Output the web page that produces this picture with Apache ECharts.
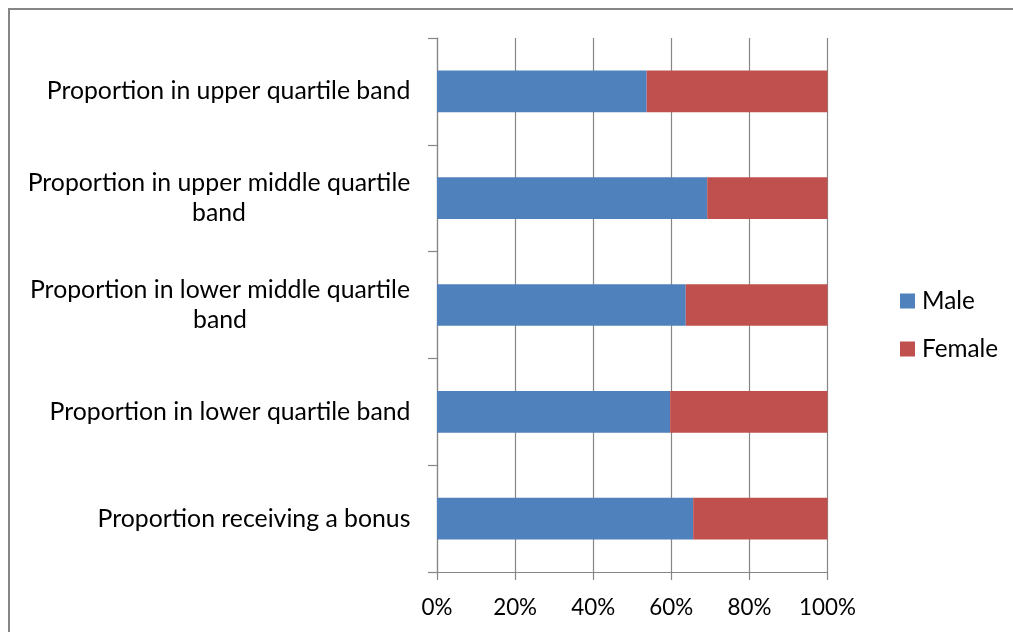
<!DOCTYPE html>
<html>
<head>
<meta charset="utf-8">
<script src="https://cdn.jsdelivr.net/npm/echarts@6/dist/echarts.min.js"></script>
<style>
  html, body { margin: 0; padding: 0; background: #fff; }
  #chart { width: 1013px; height: 632px; }
</style>
</head>
<body>
<div id="chart"></div>
<script>
const categories = [
  'Proportion in upper quartile band',
  'Proportion in upper middle quartile band',
  'Proportion in lower middle quartile band',
  'Proportion in lower quartile band',
  'Proportion receiving a bonus'
];
const maleValues = [53.7, 69.2, 63.7, 59.7, 65.6];
const femaleValues = [46.3, 30.8, 36.3, 40.3, 34.4];
const xTicks = [0, 20, 40, 60, 80, 100];

const FONT = 'Lato';
const ctx = document.createElement('canvas').getContext('2d');
function measure(text, size) {
  ctx.font = size + 'px ' + FONT;
  return ctx.measureText(text).width;
}
// size fonts so widths match the reference text widths
const catFS = +(22 * 364 / measure('Proportion in upper quartile band', 22)).toFixed(1);
const tickFS = +(22 * 57 / measure('100%', 22)).toFixed(1);
const legFS = +(22 * 76 / measure('Female', 22)).toFixed(1);
const wrapMax = 392;

function wrap(text) {
  const words = text.split(' ');
  const lines = [];
  let cur = '';
  words.forEach(w => {
    const t = cur ? cur + ' ' + w : w;
    if (measure(t, catFS) > wrapMax && cur) { lines.push(cur); cur = w; }
    else cur = t;
  });
  if (cur) lines.push(cur);
  return lines;
}

const rich = {};
categories.forEach((c, i) => {
  const lines = wrap(c);
  const w = Math.max(...lines.map(l => measure(l, catFS)));
  rich['c' + i] = { width: Math.ceil(w) + 1, align: 'center', fontSize: catFS, fontFamily: FONT, color: '#000', lineHeight: 30 };
});

const chart = echarts.init(document.getElementById('chart'), null, { renderer: 'canvas' });
const axisGray = '#868686';
chart.setOption({
  animation: false,
  textStyle: { fontFamily: FONT },
  graphic: [{
    type: 'rect',
    shape: { x: 9, y: 9, width: 1100, height: 700 },
    style: { fill: 'none', stroke: axisGray, lineWidth: 2 },
    silent: true
  }],
  grid: { left: 437, right: 185.5, top: 38, bottom: 60, containLabel: false },
  legend: {
    orient: 'vertical',
    left: 900,
    top: 289,
    padding: 0,
    itemWidth: 15,
    itemHeight: 15,
    itemGap: 24,
    icon: 'rect',
    textStyle: { fontSize: legFS, color: '#000', fontFamily: FONT, padding: [0, 0, 0, 2] },
    data: ['Male', 'Female']
  },
  xAxis: {
    type: 'value',
    min: 0,
    max: 100,
    interval: 20,
    axisLine: { show: true, lineStyle: { color: axisGray, width: 1.2 } },
    axisTick: { show: true, length: 8, lineStyle: { color: axisGray, width: 1.2 } },
    splitLine: { show: true, lineStyle: { color: axisGray, width: 1.2 } },
    axisLabel: {
      margin: 25,
      fontSize: tickFS,
      color: '#000',
      fontFamily: FONT,
      formatter: v => (xTicks.includes(v) ? v + '%' : '')
    }
  },
  yAxis: {
    type: 'category',
    inverse: true,
    data: categories,
    axisLine: { show: true, lineStyle: { color: axisGray, width: 1.2 } },
    axisTick: { show: true, length: 9, lineStyle: { color: axisGray, width: 1.2 } },
    splitLine: { show: false },
    axisLabel: {
      margin: 26,
      rich: rich,
      formatter: (v, i) => wrap(v).map(l => '{c' + i + '|' + l + '}').join('\n')
    }
  },
  series: [
    {
      name: 'Male', type: 'bar', stack: 'total', barWidth: '39%',
      itemStyle: { color: '#4F81BD' }, data: maleValues
    },
    {
      name: 'Female', type: 'bar', stack: 'total', barWidth: '39%',
      itemStyle: { color: '#C0504D' }, data: femaleValues
    }
  ]
});
</script>
</body>
</html>
